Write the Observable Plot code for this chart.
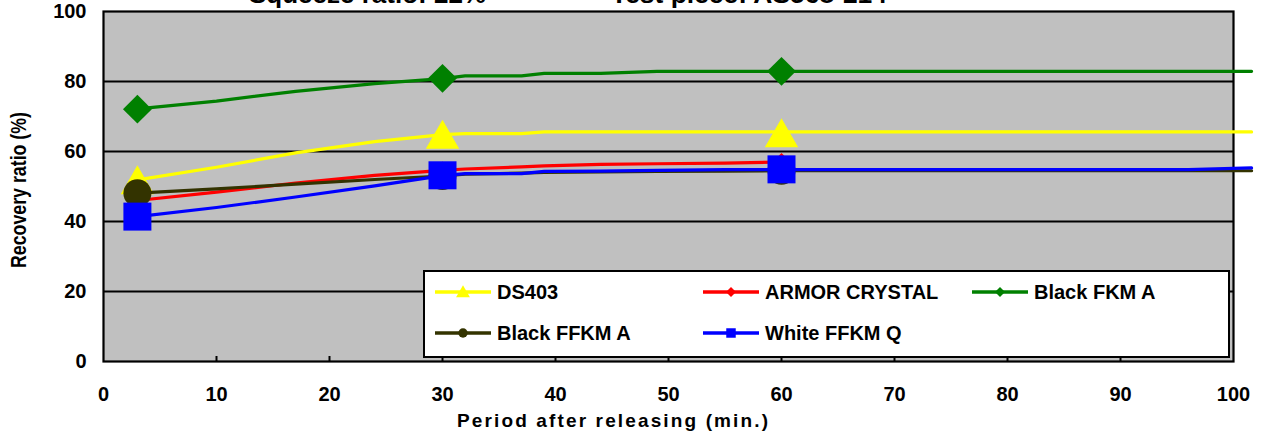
<!DOCTYPE html>
<html><head><meta charset="utf-8">
<script src="https://cdn.jsdelivr.net/npm/d3@7"></script>
<script src="https://cdn.jsdelivr.net/npm/@observablehq/plot@0.6"></script>
<style>
html,body{margin:0;padding:0;background:white;}
#chart{width:1262px;height:435px;overflow:hidden;position:relative;}
</style></head><body><div id="chart"></div>
<script>
// ---- data ----
const timeMin      = [3, 10, 17, 24, 30, 32, 37, 39, 44, 49, 55, 60, 70, 80, 90, 96, 101.6];
const ds403        = [51.9, 55.5, 59.6, 62.8, 64.8, 65.1, 65.1, 65.6, 65.6, 65.6, 65.6, 65.6, 65.6, 65.6, 65.6, 65.6, 65.6];
const armorCrystal = [46.0, 48.4, 51.0, 53.2, 54.6, 55.0, 55.6, 55.9, 56.3, 56.5, 56.7, 57.0, null, null, null, null, null];
const blackFkmA    = [72.2, 74.4, 77.2, 79.4, 80.8, 81.6, 81.6, 82.3, 82.3, 82.9, 82.9, 82.9, 82.9, 82.9, 82.9, 82.9, 82.9];
const blackFfkmA   = [48.1, 49.3, 50.7, 52.0, 53.0, 53.5, 53.8, 54.0, 54.2, 54.3, 54.4, 54.5, 54.5, 54.5, 54.5, 54.5, 54.5];
const whiteFfkmQ   = [41.4, 44.0, 47.0, 50.2, 53.1, 53.7, 53.7, 54.3, 54.4, 54.6, 54.8, 54.8, 54.8, 54.8, 54.8, 54.8, 55.3];

const markerTime   = [3, 30, 60];
const ds403Marks   = [52.0, 65.0, 65.4];
const armorMarks   = [46.0, 54.6, 57.0];
const fkmMarks     = [72.1, 80.9, 82.9];
const ffkmMarks    = [48.1, 53.0, 54.5];
const whiteMarks   = [41.4, 53.2, 54.9];

const xTicks = [0, 10, 20, 30, 40, 50, 60, 70, 80, 90, 100];
const xInnerTicks = [10, 20, 30, 40, 50, 60, 70, 80, 90];
const yTicks = [0, 20, 40, 60, 80, 100];
const yGrid = [20, 40, 60, 80];

const seriesNames   = ["DS403", "ARMOR CRYSTAL", "Black FKM A", "Black FFKM A", "White FFKM Q"];
const seriesColors  = ["#ffff00", "#ff0000", "#008000", "#333300", "#0000ff"];
const seriesSymbols = ["triangle", "diamond2", "diamond2", "circle", "square"];
const seriesValues  = [ds403, armorCrystal, blackFkmA, blackFfkmA, whiteFfkmQ];
const markerValues  = [ds403Marks, armorMarks, fkmMarks, ffkmMarks, whiteMarks];

const titleTexts = ["Squeeze ratio: 22%", "Test piece: AS568-214"];
const xTitle = "Period after releasing (min.)";
const yTitle = "Recovery ratio (%)";

// ---- styles ----
const FONT = "'Liberation Sans', Arial, sans-serif";
const markerR = [12.4, 8, 13, 14, 15.8];
const markerDy = [5, 0, 0, 0, 0];

const marks = [
  Plot.frame({fill: "#c0c0c0"}),
  Plot.ruleY(yGrid, {stroke: "black", strokeWidth: 2}),
  Plot.frame({stroke: "black", strokeWidth: 2.2}),
  Plot.ruleX(xInnerTicks, {y1: 0, y2: 0, insetTop: -5, stroke: "black", strokeWidth: 2}),
  Plot.axisX({ticks: xTicks, tickSize: 0, tickPadding: 25, fontSize: 20, fontWeight: "bold", fontFamily: FONT, label: null, tickFormat: d => String(d)}),
  Plot.axisY({ticks: yTicks, tickSize: 0, tickPadding: 17, fontSize: 20, fontWeight: "bold", fontFamily: FONT, label: null, tickFormat: d => String(d)})
];

seriesNames.forEach((name, i) => {
  const rows = timeMin.map((t, j) => ({t, v: seriesValues[i][j]})).filter(d => d.v != null);
  marks.push(Plot.line(rows, {x: "t", y: "v", stroke: seriesColors[i], strokeWidth: 3.2}));
  const mrows = markerTime.map((t, j) => ({t, v: markerValues[i][j]}));
  marks.push(Plot.dot(mrows, {x: "t", y: "v", symbol: seriesSymbols[i], r: markerR[i], fill: seriesColors[i], stroke: "none", dy: markerDy[i]}));
});

const chart = Plot.plot({
  width: 1262, height: 435,
  marginLeft: 103, marginRight: 29, marginTop: 11, marginBottom: 74,
  x: {domain: [0, 100]},
  y: {domain: [0, 100]},
  style: {fontFamily: FONT, fontSize: "20px", fontWeight: "bold", background: "white", color: "black"},
  marks
});

const svg = d3.select(chart);

// titles (cut off at top in the original)
const titleX = [249, 611], titleLen = [237, 276];
titleTexts.forEach((t, i) => {
  svg.append("text").attr("x", titleX[i]).attr("y", 3).attr("text-anchor", "start")
    .attr("font-size", 26).attr("font-weight", "bold").attr("font-family", FONT)
    .attr("textLength", titleLen[i]).attr("lengthAdjust", "spacingAndGlyphs")
    .text(t);
});

// axis titles
svg.append("text").attr("x", 457).attr("y", 427).attr("text-anchor", "start")
  .attr("font-size", 19).attr("font-weight", "bold").attr("font-family", FONT)
  .attr("textLength", 311).attr("lengthAdjust", "spacing").text(xTitle);
svg.append("text").attr("transform", "translate(26,268) rotate(-90)").attr("text-anchor", "start")
  .attr("font-size", 22).attr("font-weight", "bold").attr("font-family", FONT)
  .attr("textLength", 156).attr("lengthAdjust", "spacingAndGlyphs").text(yTitle);

// legend
const legendCol = [435, 703, 972, 435, 703];
const legendRow = [292, 292, 292, 333, 333];
const legendSym = [d3.symbolTriangle, d3.symbolDiamond2, d3.symbolDiamond2, d3.symbolCircle, d3.symbolSquare];
const legendSymSize = [83, 64, 64, 70, 90];
const legendSymDy = [1.3, 0, 0, 0, 0];
const lg = svg.append("g");
lg.append("rect").attr("x", 424).attr("y", 271).attr("width", 805).attr("height", 86)
  .attr("fill", "white").attr("stroke", "black").attr("stroke-width", 2);
seriesNames.forEach((name, i) => {
  const x0 = legendCol[i], y0 = legendRow[i];
  lg.append("line").attr("x1", x0).attr("x2", x0 + 56).attr("y1", y0).attr("y2", y0)
    .attr("stroke", seriesColors[i]).attr("stroke-width", 3.5);
  lg.append("path").attr("d", d3.symbol(legendSym[i], legendSymSize[i])())
    .attr("transform", `translate(${x0 + 28},${y0 + legendSymDy[i]})`).attr("fill", seriesColors[i]);
  lg.append("text").attr("x", x0 + 62).attr("y", y0).attr("dy", "0.36em").attr("text-anchor", "start")
    .attr("font-size", 20).attr("font-weight", "bold").attr("font-family", FONT).text(name);
});

document.getElementById("chart").appendChild(chart);
</script>
</body></html>
